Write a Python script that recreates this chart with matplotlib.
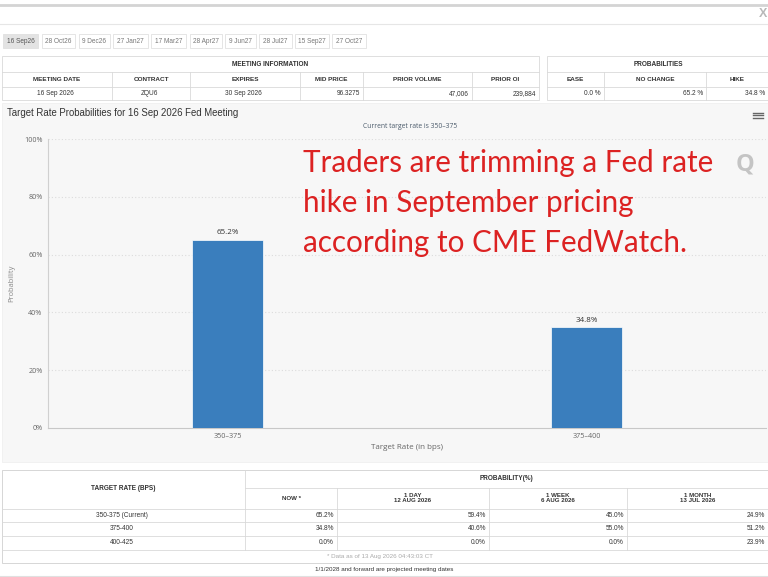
import matplotlib
matplotlib.use("Agg")
import matplotlib.pyplot as plt
from matplotlib.patches import Rectangle

# ---------------- data ----------------
tab_labels = ["16 Sep26", "28 Oct26", "9 Dec26", "27 Jan27", "17 Mar27",
              "28 Apr27", "9 Jun27", "28 Jul27", "15 Sep27", "27 Oct27"]
meeting_headers = ["MEETING DATE", "CONTRACT", "EXPIRES", "MID PRICE", "PRIOR VOLUME", "PRIOR OI"]
meeting_values = ["16 Sep 2026", "ZQU6", "30 Sep 2026", "96.3275", "47,006", "239,884"]
prob_headers = ["EASE", "NO CHANGE", "HIKE"]
prob_values = ["0.0 %", "65.2 %", "34.8 %"]

categories = ["350-375", "375-400"]
probabilities = [65.2, 34.8]
y_ticks = [0, 20, 40, 60, 80, 100]

target_rates = ["350-375 (Current)", "375-400", "400-425"]
now_probs = [65.2, 34.8, 0.0]
day1_probs = [59.4, 40.6, 0.0]
week1_probs = [45.0, 55.0, 0.0]
month1_probs = [24.9, 51.2, 23.9]
period_headers = ["NOW *", "1 DAY\n12 AUG 2026", "1 WEEK\n6 AUG 2026", "1 MONTH\n13 JUL 2026"]

# ---------------- layout ----------------
W, H = 768, 577
fig = plt.figure(figsize=(W / 100, H / 100), dpi=100)
fig.patch.set_facecolor("white")
scr = fig.add_axes([0, 0, 1, 1])
scr.set_xlim(0, W)
scr.set_ylim(H, 0)
scr.axis("off")

BORDER = "#d9d9d9"
TXT = "#333333"
SANS = ["Liberation Sans", "DejaVu Sans"]
OPEN = ["Open Sans", "DejaVu Sans"]


def rect(x0, y0, x1, y1, fc="none", ec=BORDER, lw=0.6, z=1):
    scr.add_patch(Rectangle((x0, y0), x1 - x0, y1 - y0, fc=fc, ec=ec, lw=lw, zorder=z))


def hline(x0, x1, y, c=BORDER, lw=0.6):
    scr.plot([x0, x1], [y, y], color=c, lw=lw, zorder=2)


def vline(x, y0, y1, c=BORDER, lw=0.6):
    scr.plot([x, x], [y0, y1], color=c, lw=lw, zorder=2)


def txt(x, y, s, size=4.8, ha="center", weight="normal", color=TXT, family=SANS, **kw):
    scr.text(x, y, s, fontsize=size, ha=ha, va="center", fontweight=weight,
             color=color, family=family, zorder=5, **kw)


# top frame
hline(0, W, 5, c="#d4d4d4", lw=2.0)
hline(0, W, 24, c="#e6e6e6", lw=0.8)
txt(763, 14, "X", size=9, color="#b8b8b8", weight="bold")

# tabs
tab_x = [(3, 38), (42, 75), (79, 110), (113, 148), (151, 186), (190, 222),
         (225, 256), (259, 292), (295, 329), (332, 366)]
for i, (lab, (a, b)) in enumerate(zip(tab_labels, tab_x)):
    rect(a, 34, b, 48, fc="#e3e3e3" if i == 0 else "white", ec="#e0e0e0")
    txt((a + b) / 2, 41.5, lab, size=4.7, color="#555555" if i == 0 else "#777777")

# meeting information table
mx = [2, 112, 190, 300, 363, 472, 539]
rect(2, 56, 539, 100, fc="white")
hline(2, 539, 72)
hline(2, 539, 87)
for x in mx[1:-1]:
    vline(x, 72, 100)
txt(270, 64, "MEETING INFORMATION", size=4.7, weight="bold")
for i, (h, v) in enumerate(zip(meeting_headers, meeting_values)):
    a, b = mx[i], mx[i + 1]
    txt((a + b) / 2, 79.5, h, size=4.6, weight="bold")
    if i < 3:
        txt((a + b) / 2 - 2, 93.5, v, size=4.7)
    else:
        txt(b - 3, 93.5, v, size=4.7, ha="right")

# probabilities table
px = [547, 604, 706, 768]
rect(547, 56, 770, 100, fc="white")
hline(547, 768, 72)
hline(547, 768, 87)
for x in px[1:-1]:
    vline(x, 72, 100)
txt(658, 64, "PROBABILITIES", size=4.7, weight="bold")
for i, (h, v) in enumerate(zip(prob_headers, prob_values)):
    a, b = px[i], px[i + 1]
    txt((a + b) / 2, 79.5, h, size=4.6, weight="bold")
    txt(b - 3, 93.5, v, size=4.7, ha="right")

# chart panel
rect(2, 103, 768, 462, fc="#f7f7f7", ec="#f0f0f0", z=0)
txt(7, 113, "Target Rate Probabilities for 16 Sep 2026 Fed Meeting", size=6.9, ha="left")
txt(410, 127, "Current target rate is 350\u2013375", size=4.9, color="#4a5a6a", family=OPEN)
for dy in (-2.5, 0, 2.5):
    hline(753, 763, 115 + dy, c="#666666", lw=1.0)
txt(745, 165, "Q", size=17, color="#c4c4c4", weight="bold", family=OPEN)

# bar chart axes
L, R, T, B = 48, 766, 139, 428
ax = fig.add_axes([L / W, 1 - B / H, (R - L) / W, (B - T) / H])
ax.set_facecolor("none")
ax.set_zorder(3)
xs = list(range(len(categories)))
bars = ax.bar(xs, probabilities, width=0.2, color="#3a7ebd", edgecolor="white", linewidth=0.5, zorder=3)
ax.set_xlim(-0.5, len(categories) - 0.5)
ax.set_ylim(0, 100)
ax.set_yticks(y_ticks)
ax.set_yticklabels([f"{v}%" for v in y_ticks], fontsize=5.2, color="#666666", family=OPEN)
ax.set_xticks(xs)
ax.set_xticklabels([c.replace("-", "\u2013") for c in categories], fontsize=5.2, color="#666666",
                   family=OPEN)
ax.tick_params(length=0, pad=3.5)
ax.tick_params(axis="y", pad=4)
for v in y_ticks[1:]:
    ax.axhline(v, color="#dcdcdc", lw=0.8, ls=(0, (1, 2)), zorder=1)
for s in ("top", "right"):
    ax.spines[s].set_visible(False)
ax.spines["left"].set_color("#d0d0d0")
ax.spines["bottom"].set_color("#c8c8c8")
ax.spines["left"].set_linewidth(0.8)
ax.spines["bottom"].set_linewidth(0.8)
for b, v in zip(bars, probabilities):
    ax.annotate(f"{v}%", (b.get_x() + b.get_width() / 2, v), xytext=(0, 2.5),
                textcoords="offset points", ha="center", va="bottom",
                fontsize=5.8, color="#333333", family=OPEN)
ax.set_xlabel("Target Rate (in bps)", fontsize=5.8, color="#666666", labelpad=3, family=OPEN)
ax.set_ylabel("Probability", fontsize=5.4, color="#888888", labelpad=6, family=OPEN)

# red annotation
fig.text(303 / W, 1 - 203 / H,
         "Traders are trimming a Fed rate\nhike in September pricing\naccording to CME FedWatch.",
         fontsize=21.3, color="#dc2222", family=["Lato", "DejaVu Sans"], ha="left", va="center",
         linespacing=1.52, zorder=10)

# bottom table
cx = [2, 245, 337, 489, 627, 768]
rect(2, 470, 770, 563, fc="white", ec="#d0d0d0")
hline(245, 768, 488)
hline(2, 768, 509)
for y in (522, 536, 550):
    hline(2, 768, y)
vline(245, 470, 550)
for x in cx[2:-1]:
    vline(x, 488, 550)
rect(245, 509, 337, 550, fc="#f8f7c6", ec=BORDER, z=0.5)
txt(123, 489, "TARGET RATE (BPS)", size=4.7, weight="bold")
txt(506, 479, "PROBABILITY(%)", size=4.7, weight="bold")
for i, h in enumerate(period_headers):
    a, b = cx[i + 1], cx[i + 2]
    txt((a + b) / 2, 498, h, size=4.4, weight="bold", linespacing=1.1)
ry = [515.5, 529, 543]
cols = [now_probs, day1_probs, week1_probs, month1_probs]
for r, lab in enumerate(target_rates):
    txt(122, ry[r], lab, size=4.7)
    for c, vals in enumerate(cols):
        txt(cx[c + 2] - 3, ry[r], f"{vals[r]:.1f}%", size=4.7, ha="right")
txt(380, 556.5, "* Data as of 13 Aug 2026 04:43:03 CT", size=4.5, color="#aaaaaa")
txt(384, 570, "1/1/2028 and forward are projected meeting dates", size=4.5)
hline(0, W, 576, c="#e0e0e0", lw=0.8)

fig.savefig("out.png", dpi=100, facecolor="white")
